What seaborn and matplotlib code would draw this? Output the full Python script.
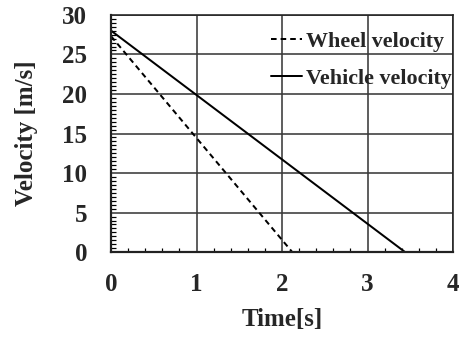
import matplotlib
matplotlib.use("Agg")
import matplotlib.pyplot as plt
import seaborn as sns
import pandas as pd
from matplotlib.ticker import MultipleLocator

series_names = ["Wheel velocity", "Vehicle velocity"]
wheel_time = [0.0, 2.12]
wheel_velocity = [27.3, 0.0]
vehicle_time = [0.0, 3.44]
vehicle_velocity = [28.0, 0.0]
x_ticks = [0, 1, 2, 3, 4]
y_ticks = [0, 5, 10, 15, 20, 25, 30]

df = pd.DataFrame({
    "Time": wheel_time + vehicle_time,
    "Velocity": wheel_velocity + vehicle_velocity,
    "Series": [series_names[0]] * len(wheel_time) + [series_names[1]] * len(vehicle_time),
})

sns.set_style("white")
plt.rcParams["font.family"] = ["Liberation Serif", "DejaVu Serif"]
plt.rcParams["font.weight"] = "bold"

fig = plt.figure(figsize=(459 / 72, 338 / 72), dpi=72)
ax = fig.add_axes([0.242, 0.254, 0.745, 0.702])

sns.lineplot(data=df, x="Time", y="Velocity", style="Series", color="black",
             dashes={series_names[0]: (2.8, 2), series_names[1]: ""},
             linewidth=2.0, ax=ax, legend=True)

ax.set_xlim(0, 4)
ax.set_ylim(0, 30)
ax.set_xticks(x_ticks)
ax.set_yticks(y_ticks)
ax.xaxis.set_minor_locator(MultipleLocator(0.2))
ax.yaxis.set_minor_locator(MultipleLocator(0.5))
ax.grid(True, which="major", color="#3a3a3a", linewidth=1.6)
ax.tick_params(axis="both", which="both", bottom=True, left=True, top=False, right=False)
ax.tick_params(axis="both", which="major", direction="in", length=0, labelsize=25)
ax.tick_params(axis="y", which="major", pad=24)
ax.tick_params(axis="x", which="major", pad=21)
ax.tick_params(axis="both", which="minor", direction="in", length=4.5, width=1.2, color="black")
for lab in ax.get_xticklabels() + ax.get_yticklabels():
    lab.set_fontweight("bold")
for s in ax.spines.values():
    s.set_color("#222222")
    s.set_linewidth(1.6)
ax.spines["left"].set_linewidth(2.2)
ax.spines["bottom"].set_linewidth(2.2)

ax.set_xlabel("Time[s]", fontsize=25, fontweight="bold", labelpad=12)
ax.set_ylabel("Velocity [m/s]", fontsize=25, fontweight="bold", labelpad=24)

leg = ax.legend(loc="upper right", frameon=False, fontsize=22, handlelength=1.4,
                handletextpad=0.2, borderaxespad=0.0, borderpad=0.0, labelspacing=0.75,
                bbox_to_anchor=(0.997, 0.93))
for t in leg.get_texts():
    t.set_fontweight("bold")

fig.savefig("out.png", dpi=72)
